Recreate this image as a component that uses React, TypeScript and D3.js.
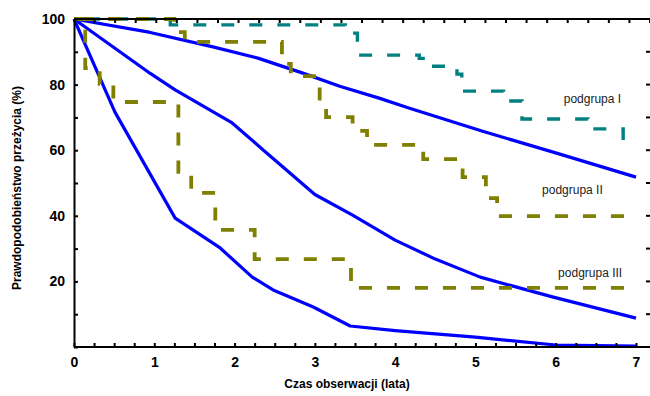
import React, { useEffect, useRef } from "react";
import * as d3 from "d3";

// smooth (model) survival curves, blue
const curveA: [number, number][] = [
  [0, 100], [0.95, 95.9], [1.73, 91.5], [2.3, 88], [2.85, 83.5], [3.31, 79.5],
  [3.81, 75.8], [4.15, 73], [5.09, 65.8], [6.01, 59.1], [7, 51.8],
];
const curveB: [number, number][] = [
  [0, 100], [0.95, 83.4], [1.26, 78.4], [1.97, 68.3], [2.36, 60], [3.0, 46.5],
  [3.47, 40.2], [4.0, 32.6], [4.5, 26.8], [5.06, 21.3], [5.97, 15.2], [7, 8.8],
];
const curveC: [number, number][] = [
  [0, 100], [0.51, 71.6], [1.26, 39.3], [1.82, 30.2], [2.22, 21.3], [2.48, 17.4],
  [2.98, 12.2], [3.44, 6.4], [4, 5], [5, 3], [6, 0.6], [7, 0.3],
];

// Kaplan-Meier step curves
const stepsI: [number, number][] = [
  [0, 100], [1.2, 98.2], [3.38, 95.7], [3.53, 89], [4.3, 88], [4.38, 85.6],
  [4.77, 83.2], [4.83, 78], [5.35, 75], [5.58, 69.5], [6.4, 66.5], [6.84, 63.1],
];
const stepsII: [number, number][] = [
  [0, 100], [1.25, 96], [1.38, 93], [2.59, 86.3], [2.7, 82.6], [3.06, 74.4],
  [3.14, 70.1], [3.47, 65.9], [3.65, 61.6], [4.35, 57.3], [4.84, 51.8],
  [5.13, 45.4], [5.27, 39.9], [6.85, 39.9],
];
const stepsIII: [number, number][] = [
  [0, 100], [0.14, 85], [0.32, 80.2], [0.49, 74.7], [1.3, 53.4], [1.46, 47],
  [1.76, 35.7], [2.25, 26.8], [3.45, 18], [6.85, 18],
];

const groupLabels = [
  { text: "podgrupa I", t: 6.1, v: 74.5 },
  { text: "podgrupa II", t: 5.83, v: 46.5 },
  { text: "podgrupa III", t: 6.03, v: 21.3 },
];

const xTicks = d3.range(0, 7.01, 0.25);
const yTicks = d3.range(0, 101, 10);
const xLabel = "Czas obserwacji (lata)";
const yLabel = "Prawdopodobieństwo przeżycia (%)";

const FONT = "'Liberation Sans', Arial, sans-serif";

export default function App() {
  const svgRef = useRef<SVGSVGElement>(null);

  useEffect(() => {
    const svg = d3.select(svgRef.current);
    svg.selectAll("*").remove();

    const left = 74, right = 636, top = 19, bottom = 347, frameRight = 650;
    const x = d3.scaleLinear().domain([0, 7]).range([left, right]);
    const xTop = d3.scaleLinear().domain([0, 7]).range([left, frameRight]);
    const y = d3.scaleLinear().domain([0, 100]).range([bottom, top]);

    const line = d3.line<[number, number]>().x((d) => x(d[0])).y((d) => y(d[1]));
    const step = d3
      .line<[number, number]>()
      .x((d) => x(d[0]))
      .y((d) => y(d[1]))
      .curve(d3.curveStepAfter);

    // blue curves
    [curveA, curveB, curveC].forEach((c) => {
      svg.append("path")
        .attr("d", line(c))
        .attr("fill", "none")
        .attr("stroke", "#0000ff")
        .attr("stroke-width", 3.2)
        .attr("stroke-linejoin", "round");
    });

    // dashed step curves, dash pattern anchored at the end of each path
    const dashed = [
      { d: stepsI, color: "#008080", w: 3.4 },
      { d: stepsII, color: "#808000", w: 3.8 },
      { d: stepsIII, color: "#808000", w: 3.8 },
    ];
    dashed.forEach((s) => {
      const p = svg.append("path")
        .attr("d", step(s.d))
        .attr("fill", "none")
        .attr("stroke", s.color)
        .attr("stroke-width", s.w)
        .attr("stroke-dasharray", "13,15")
        .attr("stroke-linejoin", "miter");
      const len = (p.node() as SVGPathElement).getTotalLength();
      const off = (((13 - len) % 28) + 28) % 28;
      p.attr("stroke-dashoffset", off);
    });

    // frame: top line + right ticks
    svg.append("line")
      .attr("x1", left).attr("x2", frameRight)
      .attr("y1", top).attr("y2", top)
      .attr("stroke", "#000").attr("stroke-width", 2);
    svg.append("g")
      .selectAll("line")
      .data(xTicks.slice(1))
      .join("line")
      .attr("x1", (d) => xTop(d)).attr("x2", (d) => xTop(d))
      .attr("y1", top).attr("y2", top + 4)
      .attr("stroke", "#000").attr("stroke-width", 2);
    svg.append("g")
      .selectAll("line")
      .data(yTicks.slice(1, -1))
      .join("line")
      .attr("x1", frameRight - 4).attr("x2", frameRight)
      .attr("y1", (d) => y(d)).attr("y2", (d) => y(d))
      .attr("stroke", "#000").attr("stroke-width", 2);

    // bottom axis
    const gx = svg.append("g")
      .attr("transform", `translate(0,${bottom})`)
      .call(
        d3.axisBottom(x)
          .tickValues(xTicks)
          .tickSize(-4)
          .tickSizeOuter(0)
          .tickPadding(10)
          .tickFormat((d) => (Number.isInteger(+d) ? String(d) : ""))
      );
    gx.select(".domain").attr("d", `M${left},0H${frameRight}`);

    // left axis
    const gy = svg.append("g")
      .attr("transform", `translate(${left},0)`)
      .call(
        d3.axisLeft(y)
          .tickValues(yTicks)
          .tickSize(-4)
          .tickSizeOuter(0)
          .tickPadding(9)
          .tickFormat((d) => (+d > 0 && +d % 20 === 0 ? String(d) : ""))
      );

    [gx, gy].forEach((g) => {
      g.select(".domain").attr("stroke", "#000").attr("stroke-width", 2);
      g.selectAll(".tick line").attr("stroke", "#000").attr("stroke-width", 2);
      g.selectAll(".tick text")
        .attr("fill", "#000")
        .style("font-family", FONT)
        .style("font-size", "14px")
        .style("font-weight", "bold");
    });

    // group labels
    svg.append("g")
      .selectAll("text")
      .data(groupLabels)
      .join("text")
      .attr("x", (d) => x(d.t))
      .attr("y", (d) => y(d.v))
      .attr("fill", "#222")
      .style("font-family", FONT)
      .style("font-size", "12px")
      .text((d) => d.text);

    // axis titles
    svg.append("text")
      .attr("x", 347)
      .attr("y", 388)
      .attr("text-anchor", "middle")
      .style("font-family", FONT)
      .style("font-size", "12px")
      .style("font-weight", "bold")
      .text(xLabel);
    svg.append("text")
      .attr("transform", "translate(21,188) rotate(-90)")
      .attr("text-anchor", "middle")
      .style("font-family", FONT)
      .style("font-size", "12px")
      .style("font-weight", "bold")
      .text(yLabel);
  }, []);

  return (
    <svg
      ref={svgRef}
      width={650}
      height={396}
      style={{ position: "absolute", left: 0, top: 0, display: "block", background: "#fff" }}
    />
  );
}
